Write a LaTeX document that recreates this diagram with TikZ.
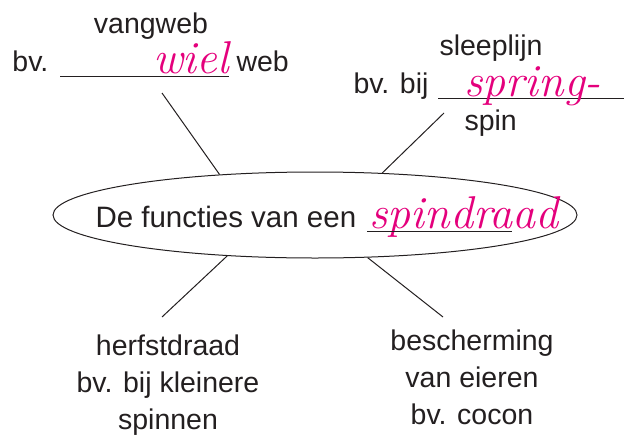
\documentclass[tikz,border=0pt]{standalone}
\usepackage{fontspec}
\setmainfont{Liberation Sans}
\usetikzlibrary{shapes.geometric}
\definecolor{inkpink}{RGB}{228,0,124}
\definecolor{printblack}{RGB}{35,31,32}
\tikzset{
	printtext/.style={text=printblack,inner sep=0pt,font=\fontsize{28.5}{37}\selectfont},
	handtext/.style={text=inkpink,inner sep=0pt,font=\fontfamily{lmr}\fontshape{it}\fontsize{46}{46}\selectfont},
	fillline/.style={line width=1pt,draw=printblack},
}
\begin{document}
\begin{tikzpicture}[x=1pt,y=-1pt,line width=1pt,draw=printblack]
		\useasboundingbox (0,0) rectangle (624,434);
		\node[draw,ellipse,minimum width=524pt,minimum height=86pt,inner sep=0pt] (hub) at (315,215) {};
		\node[printtext,anchor=base west,font=\fontsize{29.5}{37}\selectfont] (title) at (95,227) {De functies van een};
		\node[handtext,anchor=base west] (answer) at (369,228) {spindraad};
		\draw[fillline] (367,231) -- (512,231);
		% vangweb
		\node[printtext,anchor=base] (web) at (151,33) {vangweb};
		\node[printtext,anchor=base west] (webEx) at (12,71) {bv.};
		\draw[fillline] (60,76) -- (229,76);
		\node[handtext,anchor=base] (webAns) at (191,73) {wiel};
		\node[printtext,anchor=base west] (webTail) at (236,71) {web};
		% sleeplijn
		\node[printtext,anchor=base] (drag) at (491,55) {sleeplijn};
		\node[printtext,anchor=base west] (dragEx) at (353,93) {bv. bij};
		\draw[fillline] (438,98) -- (624,98);
		\node[handtext,anchor=base west] (dragAns) at (464,96) {spring-};
		\node[printtext,anchor=base west] (dragTail) at (464,130) {spin};
		% onderaan
		\node[printtext,anchor=north,align=center] (autumn) at (168,334) {herfstdraad\\bv. bij kleinere\\spinnen};
		\node[printtext,anchor=north,align=center] (cocoon) at (472,329) {bescherming\\van eieren\\bv. cocon};
		\coordinate (webEnd) at (162,93);
		\coordinate (dragEnd) at (444,113);
		\coordinate (autumnEnd) at (162,317);
		\coordinate (cocoonEnd) at (443,317);
		\draw (hub.157) -- (webEnd);
		\draw (hub.32) -- (dragEnd);
		\draw (hub.205) -- (autumnEnd);
		\draw (hub.321) -- (cocoonEnd);
	\end{tikzpicture}
\end{document}
